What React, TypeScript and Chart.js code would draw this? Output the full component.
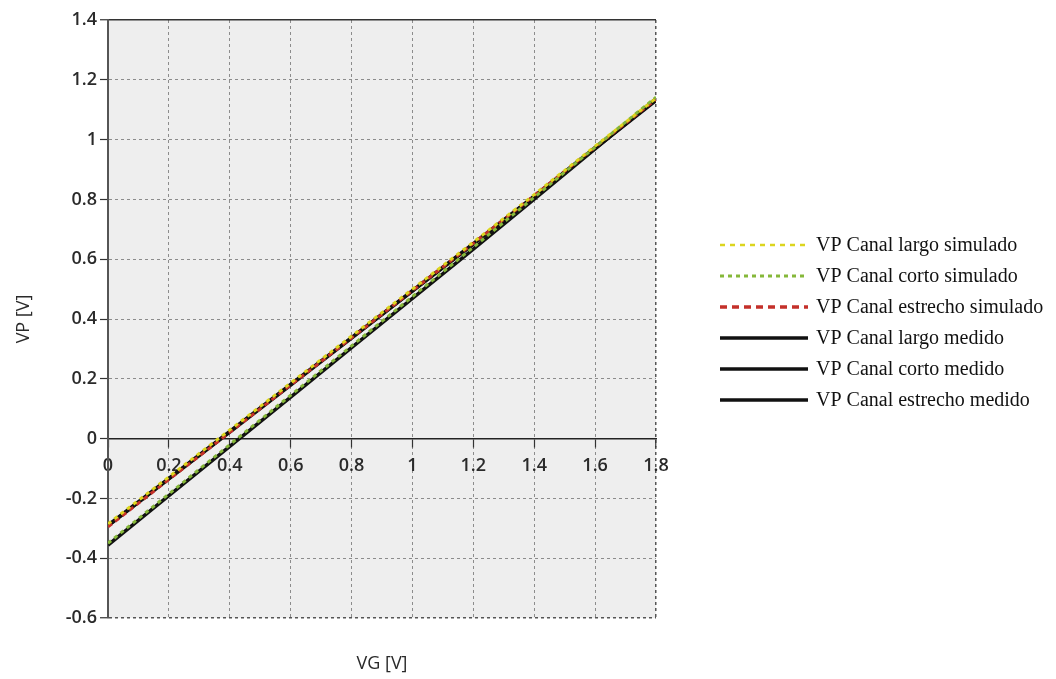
import React, { useEffect, useRef } from "react";
import { Chart, registerables } from "chart.js";

Chart.register(...registerables);

// ---- data ----
const VG = [0, 0.2, 0.4, 0.6, 0.8, 1.0, 1.2, 1.4, 1.6, 1.8];

const largoSimulado = [-0.285, -0.128, 0.029, 0.186, 0.343, 0.5, 0.657, 0.816, 0.978, 1.138];
const cortoSimulado = [-0.35, -0.185, -0.02, 0.145, 0.31, 0.475, 0.64, 0.807, 0.975, 1.142];
const estrechoSimulado = [-0.295, -0.137, 0.021, 0.179, 0.337, 0.495, 0.653, 0.813, 0.975, 1.135];
const largoMedido = [-0.29, -0.133, 0.024, 0.181, 0.338, 0.495, 0.652, 0.811, 0.973, 1.133];
const cortoMedido = [-0.356, -0.191, -0.026, 0.139, 0.304, 0.469, 0.634, 0.801, 0.969, 1.137];
const estrechoMedido = [-0.292, -0.135, 0.022, 0.179, 0.336, 0.493, 0.65, 0.809, 0.971, 1.131];

const seriesNames = [
  "VP Canal largo simulado",
  "VP Canal corto simulado",
  "VP Canal estrecho simulado",
  "VP Canal largo medido",
  "VP Canal corto medido",
  "VP Canal estrecho medido",
];

const xTitle = "VG [V]";
const yTitle = "VP [V]";

const seriesValues = [
  largoSimulado,
  cortoSimulado,
  estrechoSimulado,
  largoMedido,
  cortoMedido,
  estrechoMedido,
];

const seriesColors = ["#dcd51e", "#86b83a", "#c4302a", "#111111", "#111111", "#111111"];
const plotDash = [[4, 4], [4, 4], [5, 4], [], [], []];
const plotWidth = [3, 3, 3, 3.5, 3.5, 3.5];
const legendDash = [[5, 5], [4, 4], [7, 5], [], [], []];
const legendWidth = [2.5, 3, 3.5, 3.5, 3.5, 3.5];

const near = (a: number, b: number) => Math.abs(a - b) < 1e-6;
const fmt = (v: number) => String(Number(Number(v).toFixed(1)));

const plotBg = {
  id: "plotBg",
  beforeDraw(chart: any) {
    const { ctx, chartArea } = chart;
    const { left, top, width, height } = chartArea;
    ctx.save();
    ctx.fillStyle = "#eeeeee";
    ctx.fillRect(left, top, width, height);
    ctx.restore();
  },
};

const sideLegend = {
  id: "sideLegend",
  afterDraw(chart: any) {
    const { ctx } = chart;
    const ds = chart.data.datasets;
    ctx.save();
    ds.forEach((d: any, i: number) => {
      const y = 245 + i * 31;
      ctx.beginPath();
      ctx.strokeStyle = d.borderColor;
      ctx.lineWidth = legendWidth[i];
      ctx.setLineDash(legendDash[i]);
      ctx.moveTo(720, y);
      ctx.lineTo(808, y);
      ctx.stroke();
      ctx.setLineDash([]);
      ctx.fillStyle = "#111111";
      ctx.font = "20px 'Liberation Serif', 'Times New Roman', serif";
      ctx.textBaseline = "middle";
      ctx.textAlign = "left";
      ctx.fillText(d.label, 816, y + 1);
    });
    ctx.restore();
  },
};

export default function App() {
  const canvasRef = useRef<HTMLCanvasElement | null>(null);

  useEffect(() => {
    if (!canvasRef.current) return;
    const datasets = seriesNames.map((name, i) => ({
      label: name,
      data: VG.map((x, j) => ({ x, y: seriesValues[i][j] })),
      borderColor: seriesColors[i],
      backgroundColor: seriesColors[i],
      borderDash: plotDash[i],
      borderWidth: plotWidth[i],
      pointRadius: 0,
      fill: false,
      tension: 0,
    }));

    const tickFont = { family: "'Open Sans', 'Liberation Sans', Arial, sans-serif", size: 18, weight: "600" };
    const titleFont = { family: "'Open Sans', 'Liberation Sans', Arial, sans-serif", size: 18, weight: "500" };

    const chart = new Chart(canvasRef.current, {
      type: "line",
      data: { datasets },
      plugins: [plotBg, sideLegend],
      options: {
        animation: false,
        responsive: true,
        maintainAspectRatio: false,
        layout: { padding: { top: 20, right: 400, bottom: 0, left: 0 } },
        plugins: { legend: { display: false }, tooltip: { enabled: false } },
        scales: {
          x: {
            type: "linear",
            position: { y: 0 } as any,
            min: 0,
            max: 1.8,
            ticks: {
              stepSize: 0.2,
              autoSkip: false,
              maxRotation: 0,
              padding: 8,
              color: "#2a2a2a",
              font: tickFont,
              callback: (v: any) => fmt(v),
            },
            grid: {
              color: (c: any) => (c.tick && near(c.tick.value, 1.8) ? "#555555" : "#8c8c8c"),
              lineWidth: (c: any) => (c.tick && near(c.tick.value, 1.8) ? 1.5 : 1),
              tickColor: "#333333",
              tickLength: 8,
              tickWidth: 1.2,
            },
            border: { display: true, color: "#222222", width: 1.5, dash: [3, 3] },
          },
          x2: {
            type: "linear",
            position: "bottom",
            ticks: { display: false },
            grid: { display: false, drawTicks: false },
            border: { display: false },
            title: {
              display: true,
              text: xTitle,
              color: "#2a2a2a",
              font: titleFont,
              padding: { top: 0, bottom: 4 },
            },
            afterFit: (s: any) => {
              s.height = 61;
            },
          },
          y: {
            type: "linear",
            position: "left",
            min: -0.6,
            max: 1.4,
            ticks: {
              stepSize: 0.2,
              autoSkip: false,
              padding: 3,
              color: "#2a2a2a",
              font: tickFont,
              callback: (v: any) => fmt(v),
            },
            grid: {
              color: (c: any) =>
                c.tick && (near(c.tick.value, 1.4) ? "#333333" : near(c.tick.value, -0.6) ? "#555555" : "#8c8c8c"),
              lineWidth: (c: any) =>
                c.tick && (near(c.tick.value, 1.4) || near(c.tick.value, -0.6)) ? 1.5 : 1,
              tickColor: "#333333",
              tickLength: 8,
              tickWidth: 1.2,
            },
            border: {
              display: true,
              color: "#555555",
              width: 2,
              dash: (c: any) => (c.tick && near(c.tick.value, 1.4) ? [] : [3, 3]),
            } as any,
            title: {
              display: true,
              text: yTitle,
              color: "#2a2a2a",
              font: titleFont,
              padding: { top: 13, bottom: 0 },
            },
            afterFit: (s: any) => {
              s.width = 108;
            },
          },
        },
      } as any,
    });
    return () => chart.destroy();
  }, []);

  return (
    <div style={{ position: "absolute", left: 0, top: 0, width: 1056, height: 679, background: "#ffffff" }}>
      <canvas ref={canvasRef} />
    </div>
  );
}
